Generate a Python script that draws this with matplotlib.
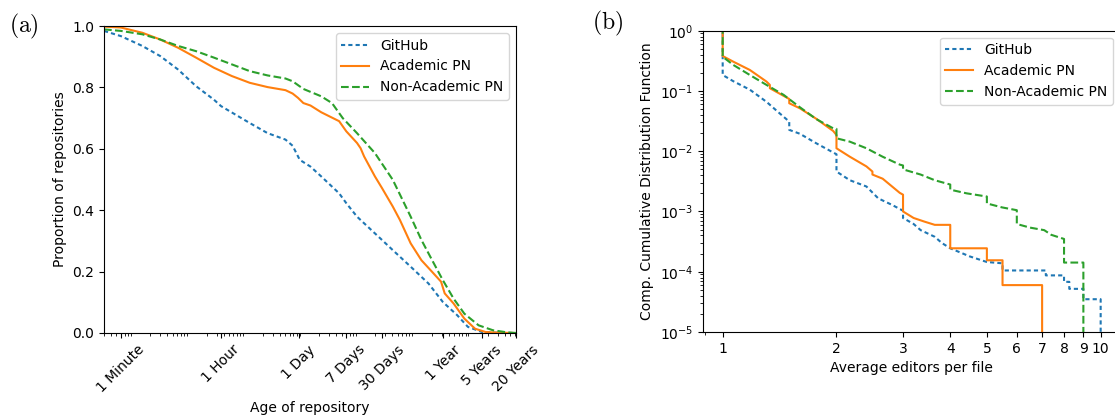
import matplotlib
matplotlib.use("Agg")
import matplotlib.pyplot as plt
from matplotlib.ticker import NullFormatter

# (a) survival of repositories by age (seconds)
github_age = [30, 60, 144, 300, 624, 1297, 2698, 3610, 11670, 24230, 50400, 67500,
              90500, 140300, 217800, 453000, 607000, 942000, 2.62e6, 4.07e6, 8.47e6,
              1.76e7, 3.16e7, 5.68e7, 8.81e7, 1.58e8, 3.29e8, 6.3e8]
github_prop = [0.984, 0.967, 0.935, 0.902, 0.858, 0.804, 0.760, 0.739, 0.684, 0.651, 0.630, 0.610,
               0.564, 0.542, 0.510, 0.455, 0.423, 0.379, 0.303, 0.270, 0.216,
               0.161, 0.101, 0.058, 0.020, 0.003, 0.0005, 0.0]

academic_age = [30, 60, 144, 300, 624, 1297, 2698, 5610, 11670, 24230, 50400, 67500, 84100,
                104800, 140300, 217800, 453000, 607000, 942000, 1.09e6, 1.26e6, 1.96e6,
                2.62e6, 4.07e6, 5.46e6, 8.47e6, 1.315e7, 2.04e7, 2.94e7, 3.41e7, 4.91e7,
                7.61e7, 1.18e8, 1.83e8, 3.29e8, 6.3e8]
academic_prop = [0.998, 0.995, 0.978, 0.956, 0.929, 0.897, 0.864, 0.837, 0.815, 0.801, 0.791, 0.780, 0.766,
                 0.749, 0.741, 0.719, 0.690, 0.657, 0.619, 0.602, 0.575, 0.510,
                 0.472, 0.412, 0.368, 0.292, 0.237, 0.199, 0.167, 0.129, 0.096,
                 0.047, 0.014, 0.003, 0.001, 0.0]

nonacad_age = [30, 60, 144, 300, 624, 1297, 2698, 5610, 11670, 24230, 50400, 67500, 104800,
               217800, 338000, 524800, 942000, 1.96e6, 4.07e6, 8.47e6, 1.315e7, 2.04e7,
               3.16e7, 4.91e7, 7.61e7, 1.365e8, 2.45e8, 4.40e8, 6.3e8]
nonacad_prop = [0.989, 0.984, 0.973, 0.956, 0.935, 0.918, 0.897, 0.875, 0.853, 0.839, 0.829, 0.820, 0.795,
                0.771, 0.749, 0.700, 0.651, 0.586, 0.499, 0.379, 0.303, 0.237,
                0.172, 0.112, 0.063, 0.025, 0.009, 0.002, 0.0]

age_ticks = [60, 3600, 86400, 7 * 86400, 30 * 86400, 365 * 86400, 5 * 365 * 86400, 20 * 365 * 86400]
age_labels = ["1 Minute", "1 Hour", "1 Day", "7 Days", "30 Days", "1 Year", "5 Years", "20 Years"]

# (b) CCDF of average editors per file (repeated x = vertical drop)
github_ed = [0.85, 1, 1, 1.067, 1.18, 1.306, 1.4, 1.5, 1.5, 1.6, 1.77, 2, 2, 2.17, 2.4, 2.58, 2.81, 3, 3,
             3.2, 3.34, 3.64, 3.8, 4, 4.5, 5, 5.5, 5.5, 7.16, 7.16, 8, 8, 8.26, 8.26, 9, 9, 10, 10]
github_ccdf = [1, 1, 0.184, 0.145, 0.105, 0.066, 0.045, 0.031, 0.0226, 0.0195, 0.0135, 0.0089, 0.0046,
               0.0033, 0.0026, 0.00165, 0.00128, 0.00103, 0.00078,
               0.00062, 0.00049, 0.00038, 0.00030, 0.000245, 0.00018, 0.000145, 0.000138, 0.000105,
               0.000105, 0.000087, 0.000087, 0.000068, 0.000068, 0.000052, 0.000052, 0.000035, 0.000035, 0]

academic_ed = [0.85, 1, 1, 1.067, 1.18, 1.306, 1.333, 1.333, 1.5, 1.5, 1.6, 1.77, 1.96, 2, 2, 2.17, 2.4,
               2.49, 2.49, 2.65, 2.94, 3, 3, 3.2, 3.415, 3.64, 4, 4, 5, 5, 5.5, 5.5, 7, 7]
academic_ccdf = [1, 1, 0.38, 0.306, 0.223, 0.143, 0.126, 0.111, 0.0736, 0.0625, 0.0516, 0.0344, 0.0217,
                 0.0186, 0.0112, 0.0081, 0.0056, 0.0046, 0.0041, 0.0035, 0.00204, 0.0019, 0.00100,
                 0.00078, 0.00068, 0.00060, 0.00060, 0.000245, 0.000245, 0.000155, 0.000155, 0.00006,
                 0.00006, 0]

nonacad_ed = [0.85, 1, 1, 1.067, 1.18, 1.306, 1.45, 1.6, 1.77, 1.96, 2, 2, 2.17, 2.4, 2.65, 2.94, 3, 3,
              3.34, 3.64, 4, 4, 4.42, 5, 5, 5.48, 6, 6, 6.5, 7.09, 7.4, 8, 8, 9, 9]
nonacad_ccdf = [1, 1, 0.37, 0.27, 0.184, 0.126, 0.086, 0.0537, 0.034, 0.024, 0.0235, 0.0164, 0.0144,
                0.0112, 0.0081, 0.0060, 0.0058, 0.0050, 0.0041, 0.0033, 0.0028, 0.0023, 0.0020,
                0.00177, 0.00136, 0.00117, 0.00105, 0.00062, 0.00054, 0.00049, 0.00041, 0.00035,
                0.000142, 0.000142, 0]

editor_ticks = list(range(1, 11))

blue, orange, green = "#1f77b4", "#ff7f0e", "#2ca02c"
gh_style = (0, (2, 1.5))

fig = plt.figure(figsize=(11.15, 4.19), dpi=100)

ax1 = fig.add_axes([104 / 1115, 1 - 333 / 419, 412 / 1115, 307 / 419])
ax1.plot(github_age, github_prop, color=blue, ls=gh_style, lw=1.5, label="GitHub")
ax1.plot(academic_age, academic_prop, color=orange, ls="-", lw=1.5, label="Academic PN")
ax1.plot(nonacad_age, nonacad_prop, color=green, ls="--", lw=1.5, label="Non-Academic PN")
ax1.set_xscale("log")
ax1.set_xlim(30, 20 * 365 * 86400)
ax1.set_ylim(0, 1.0)
ax1.set_xticks(age_ticks, age_labels, rotation=45)
ax1.xaxis.set_minor_formatter(NullFormatter())
ax1.set_xlabel("Age of repository")
ax1.set_ylabel("Proportion of repositories")
ax1.legend(loc="upper right", fontsize=10)

ax2 = fig.add_axes([703 / 1115, 1 - 332 / 419, 417 / 1115, 301.3 / 419])
ax2.plot(github_ed, github_ccdf, color=blue, ls=gh_style, lw=1.5, label="GitHub")
ax2.plot(academic_ed, academic_ccdf, color=orange, ls="-", lw=1.5, label="Academic PN")
ax2.plot(nonacad_ed, nonacad_ccdf, color=green, ls="--", lw=1.5, label="Non-Academic PN")
ax2.set_xscale("log")
ax2.set_yscale("log")
ax2.set_xlim(0.887, 11.25)
ax2.set_ylim(1e-5, 1)
ax2.set_xticks(editor_ticks, [str(t) for t in editor_ticks])
ax2.xaxis.set_minor_formatter(NullFormatter())
ax2.set_xlabel("Average editors per file")
ax2.set_ylabel("Comp. Cumulative Distribution Function")
ax2.legend(loc="upper right", fontsize=10)

fig.text(9 / 1115, 1 - 26 / 419, r"$\mathrm{(a)}$", fontsize=17, ha="left", va="center",
         math_fontfamily="cm")
fig.text(592 / 1115, 1 - 23 / 419, r"$\mathrm{(b)}$", fontsize=17, ha="left", va="center",
         math_fontfamily="cm")

fig.savefig("out.png", dpi=100)
